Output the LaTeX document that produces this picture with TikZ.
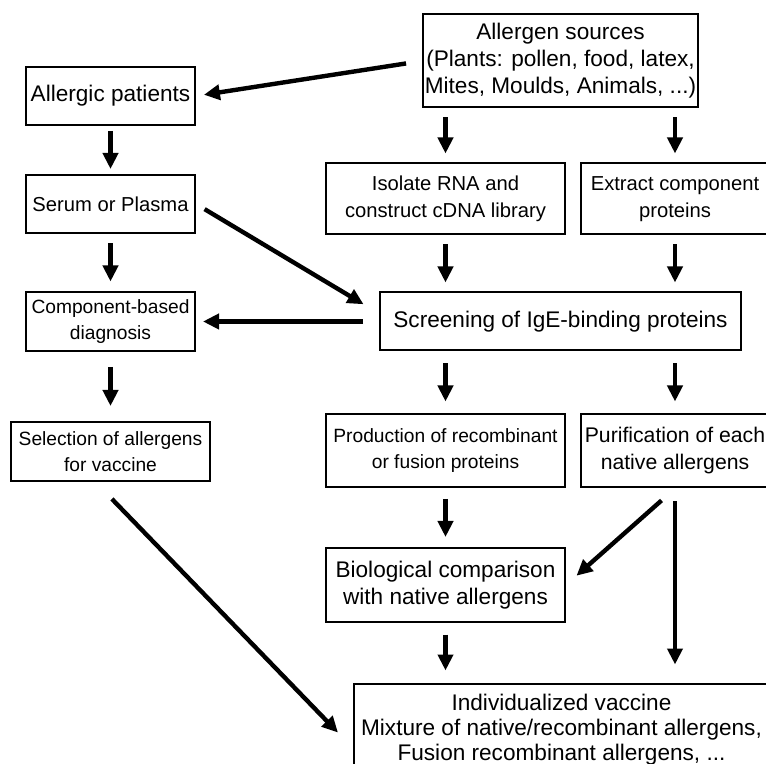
\documentclass[tikz,border=0pt]{standalone}
\usepackage{fontspec}
\setmainfont{Liberation Sans}
\usetikzlibrary{arrows.meta, positioning}

\begin{document}
\begin{tikzpicture}[
    box/.style={rectangle, draw=black, line width=1pt, inner sep=1pt, align=center,
                font=\fontsize{11.3}{13.5}\selectfont},
    sbox/.style={box, font=\fontsize{10.1}{13.5}\selectfont},
    xsbox/.style={box, font=\fontsize{9.6}{13}\selectfont},
    arrow/.style={-{Triangle[length=8pt, width=7.5pt]}, line width=2.2pt},
    gap/.style={shorten <=#1, shorten >=#1}
]
    \useasboundingbox (0,0) rectangle (383pt,-382pt);

    % left column
    \node[box, minimum width=84.5pt, minimum height=29pt] (pat) at (55.25pt,-48pt) {Allergic patients};
    \node[sbox, minimum width=84.5pt, minimum height=29pt, below=24pt of pat] (serum) {Serum or Plasma};
    \node[xsbox, minimum width=84.5pt, minimum height=29.5pt, below=28.5pt of serum] (diag) {Component-based\\diagnosis};
    \node[xsbox, minimum width=99.5pt, minimum height=29.5pt, below=34.5pt of diag] (select) {Selection of allergens\\for vaccine};

    % screening and sources
    \node[box, minimum width=180.5pt, minimum height=29pt, right=91.5pt of diag] (screen) {Screening of IgE-binding proteins};
    \node[box, minimum width=137.5pt, minimum height=46.5pt, above=91.5pt of screen] (src) {Allergen sources\\(Plants: pollen, food, latex,\\Mites, Moulds, Animals, ...)};
    \node[sbox, minimum width=119.5pt, minimum height=35.5pt, above=28pt of screen.north west, anchor=south west, xshift=-27pt] (rna) {Isolate RNA and\\construct cDNA library};
    \node[sbox, minimum width=94pt, minimum height=35.5pt, right=7pt of rna] (extract) {Extract component\\proteins};

    % lower part
    \node[xsbox, minimum width=119.5pt, minimum height=36.5pt, below=31pt of screen.south west, anchor=north west, xshift=-27pt] (prod) {Production of recombinant\\or fusion proteins};
    \node[box, font=\fontsize{10.6}{13.5}\selectfont, minimum width=94pt, minimum height=36.5pt, right=7pt of prod] (purif) {Purification of each\\native allergens};
    \node[box, minimum width=119.5pt, minimum height=36.5pt, below=29.5pt of prod] (bio) {Biological comparison\\with native allergens};
    \node[box, font=\fontsize{11.3}{12.5}\selectfont, minimum width=207.5pt, minimum height=46pt, below=97pt of purif.south east, anchor=north east] (indiv) {Individualized vaccine\\Mixture of native/recombinant allergens,\\Fusion recombinant allergens, ...};

    \draw[arrow, shorten <=8pt, shorten >=4pt] (src.west) -- (pat.east);
    \draw[arrow, gap=4.5pt] (src.south -| rna.north) -- (rna.north);
    \draw[arrow, gap=4.5pt] (src.south -| extract.north) -- (extract.north);
    \draw[arrow, gap=2.5pt] (pat) -- (serum);
    \draw[arrow, gap=4.75pt] (serum) -- (diag);
    \draw[arrow, gap=7.5pt] (diag) -- (select);
    \draw[arrow, shorten <=5pt, shorten >=9pt] (serum.east) -- ([yshift=4pt]screen.west);
    \draw[arrow, shorten <=8pt, shorten >=3.5pt] (screen.west) -- (screen.west -| diag.east);
    \draw[arrow, gap=4.5pt] (rna) -- (rna |- screen.north);
    \draw[arrow, gap=4.5pt] (extract) -- (extract |- screen.north);
    \draw[arrow, gap=6pt] (screen.south -| prod.north) -- (prod);
    \draw[arrow, gap=6pt] (screen.south -| purif.north) -- (purif);
    \draw[arrow, gap=5.25pt] (prod) -- (bio);
    \draw[arrow, shorten <=9pt, shorten >=7pt] (purif.south) -- (bio.east);
    \draw[arrow, shorten <=6.5pt, shorten >=9pt] (purif) -- (purif |- indiv.north);
    \draw[arrow, gap=6pt] (bio) -- (bio |- indiv.north);
    \draw[arrow, shorten <=11.8pt, shorten >=10.8pt] ([xshift=-7.5pt]select.south) -- ([yshift=-9.3pt]indiv.west);
\end{tikzpicture}
\end{document}
